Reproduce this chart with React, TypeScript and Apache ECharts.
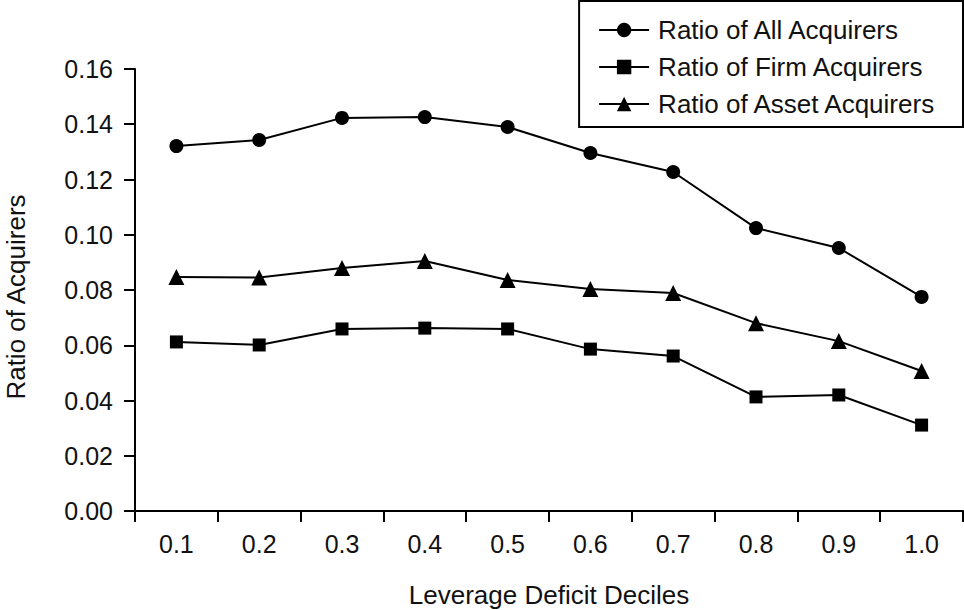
import React, { useEffect, useRef } from "react";
import * as echarts from "echarts";

const categories = ["0.1", "0.2", "0.3", "0.4", "0.5", "0.6", "0.7", "0.8", "0.9", "1.0"];
const allAcquirers = [0.1321, 0.1343, 0.1423, 0.1426, 0.139, 0.1296, 0.1227, 0.1024, 0.0952, 0.0775];
const firmAcquirers = [0.0612, 0.0601, 0.0659, 0.0662, 0.0659, 0.0586, 0.0561, 0.0413, 0.042, 0.0311];
const assetAcquirers = [0.0847, 0.0845, 0.088, 0.0905, 0.0836, 0.0804, 0.0789, 0.068, 0.0615, 0.0507];

const FONT = "'Liberation Sans', Arial, sans-serif";

export default function App() {
  const ref = useRef<HTMLDivElement>(null);
  useEffect(() => {
    document.body.style.margin = "0";
    const chart = echarts.init(ref.current!, undefined, { renderer: "svg" });
    const mk = (name: string, data: number[], symbol: string, size: number) => ({
      name,
      type: "line",
      data,
      symbol,
      symbolSize: size,
      lineStyle: { color: "#000", width: 2 },
      itemStyle: { color: "#000" },
    });
    chart.setOption({
      animation: false,
      backgroundColor: "#fff",
      textStyle: { fontFamily: FONT },
      legend: {
        right: 1,
        top: 1,
        orient: "vertical",
        padding: [16, 26, 10, 19],
        itemGap: 11,
        itemWidth: 50,
        itemHeight: 18,
        borderColor: "#000",
        borderWidth: 2,
        textStyle: { fontSize: 26, color: "#111", fontFamily: FONT, padding: [0, 0, 0, 4] },
        data: ["Ratio of All Acquirers", "Ratio of Firm Acquirers", "Ratio of Asset Acquirers"],
      },
      grid: { left: 135, right: 1, top: 69, bottom: 99, containLabel: false, outerBoundsMode: "none" },
      xAxis: {
        type: "category",
        data: categories,
        boundaryGap: true,
        name: "Leverage Deficit Deciles",
        nameLocation: "middle",
        nameGap: 71,
        nameTextStyle: { fontSize: 26, color: "#111", fontFamily: FONT },
        axisLine: { lineStyle: { color: "#000", width: 2 } },
        axisTick: { show: true, length: 11, lineStyle: { color: "#000", width: 2 } },
        axisLabel: { fontSize: 25, color: "#111", margin: 20, fontFamily: FONT },
        splitLine: { show: false },
      },
      yAxis: {
        type: "value",
        min: 0,
        max: 0.16,
        interval: 0.02,
        name: "Ratio of Acquirers",
        nameLocation: "middle",
        nameGap: 106,
        nameTextStyle: { fontSize: 26, lineHeight: 26, color: "#111", fontFamily: FONT, padding: [0, 14, 0, 0] },
        axisLine: { show: true, lineStyle: { color: "#000", width: 2 } },
        axisTick: { show: true, length: 11, lineStyle: { color: "#000", width: 2 } },
        axisLabel: { fontSize: 25, color: "#111", margin: 22, fontFamily: FONT, formatter: (v: number) => v.toFixed(2) },
        splitLine: { show: false },
      },
      series: [
        mk("Ratio of All Acquirers", allAcquirers, "circle", 14),
        mk("Ratio of Firm Acquirers", firmAcquirers, "rect", 13),
        mk("Ratio of Asset Acquirers", assetAcquirers, "triangle", 16),
      ],
    });
    return () => chart.dispose();
  }, []);
  return <div ref={ref} style={{ width: 964, height: 610 }} />;
}
